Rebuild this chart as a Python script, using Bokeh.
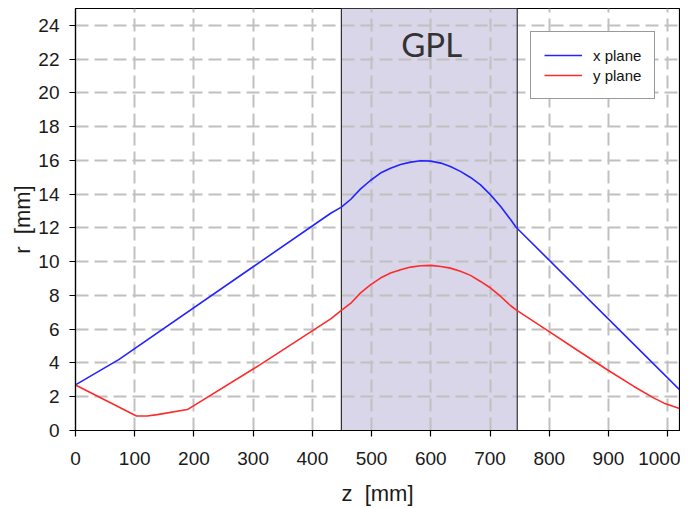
from bokeh.plotting import figure
from bokeh.models import Range1d, FixedTicker, Legend, LegendItem
from bokeh.core.properties import value
from bokeh.embed import file_html
from bokeh.resources import INLINE

# ---- data ----
x_z = [0, 73, 300, 431, 449, 465, 481, 498, 515, 532, 549, 566, 583, 600, 617,
       633, 650, 667, 684, 701, 718, 735, 744, 1020]
x_r = [2.7, 4.2, 9.7, 12.87, 13.23, 13.7, 14.3, 14.81, 15.25, 15.54, 15.76, 15.9,
       15.98, 15.96, 15.84, 15.64, 15.35, 14.99, 14.55, 13.96, 13.27, 12.48, 12.04, 2.42]

y_z = [0, 103, 121, 138, 189, 312, 431, 449, 465, 481, 498, 515, 532, 549, 566,
       583, 600, 617, 633, 650, 667, 684, 701, 718, 735, 744, 800, 847, 898, 943,
       977, 994, 1020]
y_r = [2.7, 0.86, 0.86, 0.94, 1.24, 3.9, 6.61, 7.11, 7.54, 8.14, 8.63, 9.03, 9.33,
       9.52, 9.68, 9.76, 9.78, 9.72, 9.62, 9.43, 9.19, 8.83, 8.44, 7.94, 7.39, 7.15,
       5.86, 4.77, 3.6, 2.61, 1.92, 1.62, 1.3]

gpl_start = [449]
gpl_end = [746]
gpl_label = ["GPL"]

x_ticks = [0, 100, 200, 300, 400, 500, 600, 700, 800, 900, 1000]
y_ticks = [0, 2, 4, 6, 8, 10, 12, 14, 16, 18, 20, 22, 24]
z_max = 1020
r_max = 25
x_title = "z\u00a0\u00a0[mm]"
y_title = "r\u00a0\u00a0[mm]"

FONT = "Liberation Sans"

p = figure(width=680, height=508, output_backend="svg", toolbar_location=None,
           x_range=Range1d(0, z_max), y_range=Range1d(0, r_max),
           min_border_left=75, min_border_right=1, min_border_top=8,
           min_border_bottom=78)

p.background_fill_color = "white"
p.border_fill_color = "white"
p.outline_line_color = "black"
p.outline_line_width = 1.2

# GPL shaded region (beneath the grid)
p.quad(left=gpl_start, right=gpl_end, bottom=[0], top=[r_max],
       fill_color="#d8d6e8", line_color=None, level="image")
p.quad(left=gpl_start, right=gpl_end, bottom=[0], top=[r_max],
       fill_color=None, line_color="#333333", line_width=1.2)

p.text(x=[(gpl_start[0] + gpl_end[0]) / 2 + 4], y=[22.9], text=gpl_label,
       text_font=value("Lato"), text_font_size="33px", text_color="#333333",
       text_align="center", text_baseline="middle")

# grid
for g in (p.xgrid, p.ygrid):
    g.grid_line_color = "#c0c0c0"
    g.grid_line_width = 2
    g.grid_line_dash = "13 6"
p.xgrid.ticker = FixedTicker(ticks=x_ticks)
p.ygrid.ticker = FixedTicker(ticks=y_ticks)

lx = p.line(x_z, x_r, line_color="#2424ff", line_width=1.6)
ly = p.line(y_z, y_r, line_color="#ff2a2a", line_width=1.6)

# axes
for ax in (p.xaxis[0], p.yaxis[0]):
    ax.axis_line_color = "black"
    ax.axis_line_width = 1.2
    ax.major_tick_line_color = "black"
    ax.major_tick_line_width = 1.2
    ax.major_tick_in = 0
    ax.major_tick_out = 6
    ax.minor_tick_line_color = None
    ax.major_label_text_font = FONT
    ax.major_label_text_font_size = "19px"
    ax.major_label_text_color = "#1a1a1a"
    ax.axis_label_text_font = FONT
    ax.axis_label_text_font_size = "22px"
    ax.axis_label_text_font_style = "normal"
    ax.axis_label_text_color = "#1a1a1a"

p.xaxis.ticker = FixedTicker(ticks=x_ticks)
p.yaxis.ticker = FixedTicker(ticks=y_ticks)
p.xaxis.axis_label = x_title
p.yaxis.axis_label = y_title
p.xaxis.major_label_standoff = 15
p.xaxis.axis_label_standoff = 13
p.yaxis.major_label_standoff = 10
p.yaxis.axis_label_standoff = 0

legend = Legend(items=[LegendItem(label="x plane", renderers=[lx]),
                       LegendItem(label="y plane", renderers=[ly])],
                location=(455, 331))
legend.label_text_font = FONT
legend.label_text_font_size = "15px"
legend.label_text_color = "#111111"
legend.border_line_color = "#333333"
legend.border_line_width = 1
legend.background_fill_color = "white"
legend.background_fill_alpha = 1
legend.padding = 13
legend.margin = 0
legend.spacing = 0
legend.glyph_width = 38
legend.glyph_height = 20
legend.label_height = 20
legend.label_standoff = 11
p.add_layout(legend, "center")

open("out.html", "w").write(file_html(p, INLINE))
